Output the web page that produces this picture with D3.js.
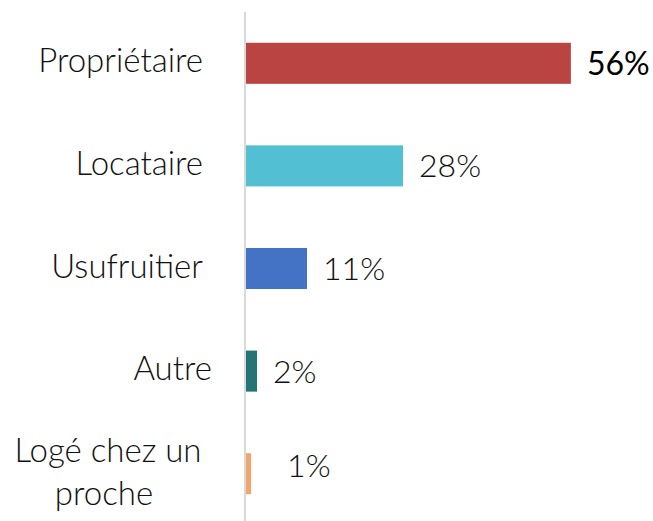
<!DOCTYPE html>
<html>
<head>
<meta charset="utf-8">
<script src="https://cdn.jsdelivr.net/npm/d3@7"></script>
<style>
  html, body { margin: 0; padding: 0; background: #fff; }
  svg { display: block; font-family: Lato, 'Open Sans', sans-serif; }
</style>
</head>
<body>
<svg width="653" height="521"></svg>
<script>
// categories, top to bottom
const categories = ['Propriétaire', 'Locataire', 'Usufruitier', 'Autre', 'Logé chez un proche']
// bar lengths as drawn (in %), and the printed labels
const values = [57.5, 27.8, 10.8, 1.95, 0.9]
const valueLabels = ['56%', '28%', '11%', '2%', '1%']
const colors = ['#B94441', '#53BFD3', '#4472C4', '#237576', '#F1A46C']

const svg = d3.select('svg'),
  width = 653,
  height = 521

const data = categories.map((c, i) => ({ cat: c, value: values[i], label: valueLabels[i], color: colors[i] }))

const x = d3.scaleLinear()
  .domain([0, 100])
  .range([246, 811])

const y = d3.scaleBand()
  .domain(categories)
  .range([12, 525])
  .paddingInner(0.6)
  .paddingOuter(0.3)

// bars
svg.append('g')
  .selectAll('rect')
  .data(data)
  .join('rect')
  .attr('x', x(0))
  .attr('y', d => y(d.cat))
  .attr('width', d => x(d.value) - x(0))
  .attr('height', y.bandwidth())
  .attr('fill', d => d.color)

// vertical axis line
svg.append('line')
  .attr('x1', 245).attr('x2', 245)
  .attr('y1', 12).attr('y2', height)
  .attr('stroke', '#D9D9D9')
  .attr('stroke-width', 2)

// value labels
svg.append('g')
  .selectAll('text')
  .data(data)
  .join('text')
  .attr('x', (d, i) => x(d.value) + (i === 4 ? 36 : 16))
  .attr('y', (d, i) => y(d.cat) + y.bandwidth() / 2 + (i === 4 ? 3 : 11.5))
  .attr('font-size', '32px')
  .attr('font-weight', (d, i) => i === 0 ? 400 : 300)
  .attr('fill', (d, i) => i === 0 ? '#000' : '#111')
  .text(d => d.label)

// category labels (wrap the long one on two lines)
const catLabels = svg.append('g')
  .selectAll('text')
  .data(data)
  .join('text')
  .attr('font-size', '33px')
  .attr('font-weight', 300)
  .attr('fill', '#111')

catLabels.each(function (d) {
  const t = d3.select(this)
  const mid = y(d.cat) + y.bandwidth() / 2
  if (d.cat === 'Logé chez un proche') {
    t.attr('text-anchor', 'middle')
    t.append('tspan').attr('x', 108).attr('y', mid - 12).text('Logé chez un')
    t.append('tspan').attr('x', 104).attr('y', mid + 31).text('proche')
  } else {
    t.attr('text-anchor', 'end')
      .attr('x', d.cat === 'Autre' ? 212 : 203).attr('y', mid + 9).text(d.cat)
  }
})
</script>
</body>
</html>
